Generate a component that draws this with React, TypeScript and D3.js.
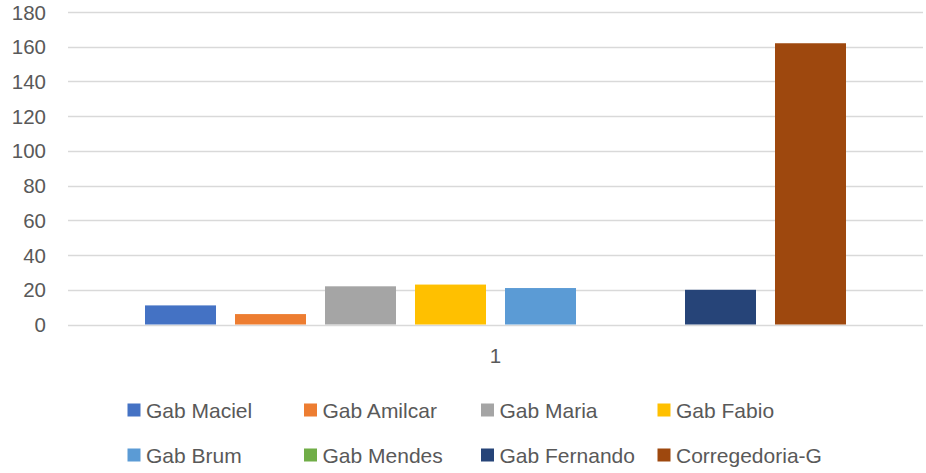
import React from "react";
import * as d3 from "d3";

const categories = ["1"];
const seriesNames = [
  "Gab Maciel",
  "Gab Amilcar",
  "Gab Maria",
  "Gab Fabio",
  "Gab Brum",
  "Gab Mendes",
  "Gab Fernando",
  "Corregedoria-G",
];
const seriesValues = [11, 6, 22, 23, 21, 0, 20, 162];
const seriesColors = [
  "#4472C4",
  "#ED7D31",
  "#A5A5A5",
  "#FFC000",
  "#5B9BD5",
  "#70AD47",
  "#264478",
  "#9E480E",
];
const yTicks = [0, 20, 40, 60, 80, 100, 120, 140, 160, 180];

const W = 926;
const H = 473;
const FONT = "'Liberation Sans', Arial, sans-serif";

export default function App() {
  const left = 68;
  const right = 923;
  const y = d3.scaleLinear().domain([0, 180]).range([324.5, 12]);
  const x0 = d3.scaleBand().domain(categories).range([left, right]).padding(0);
  const x1 = d3
    .scaleBand()
    .domain(seriesNames)
    .range([0, x0.bandwidth()])
    .paddingInner(19 / 90)
    .paddingOuter(0.8556);

  const legendCols = [127.5, 304, 481, 657.5];
  const legendRows = [410, 455];

  return (
    <svg
      width={W}
      height={H}
      style={{ position: "absolute", left: 0, top: 0, background: "#fff" }}
      fontFamily={FONT}
    >
      {yTicks.map((t) => (
        <g key={t}>
          <line
            x1={left}
            x2={right}
            y1={Math.round(y(t)) + 0.5}
            y2={Math.round(y(t)) + 0.5}
            stroke="#D9D9D9"
            strokeWidth={t === 0 ? 1.5 : 1.3}
          />
          <text
            x={46}
            y={y(t)}
            textAnchor="end"
            dominantBaseline="central"
            fontSize={20.5}
            fill="#595959"
          >
            {t}
          </text>
        </g>
      ))}
      {categories.map((c) => (
        <g key={c} transform={`translate(${x0(c)},0)`}>
          {seriesNames.map((s, i) => (
            <rect
              key={s}
              x={x1(s)}
              y={y(seriesValues[i])}
              width={x1.bandwidth()}
              height={y(0) - y(seriesValues[i])}
              fill={seriesColors[i]}
            />
          ))}
          <text
            x={x0.bandwidth() / 2}
            y={355}
            textAnchor="middle"
            dominantBaseline="central"
            fontSize={20.5}
            fill="#595959"
          >
            {c}
          </text>
        </g>
      ))}
      {seriesNames.map((s, i) => {
        const cx = legendCols[i % 4];
        const cy = legendRows[Math.floor(i / 4)];
        return (
          <g key={s}>
            <rect x={cx} y={cy - 6.5} width={13} height={13} fill={seriesColors[i]} />
            <text
              x={cx + 18.5}
              y={cy}
              dominantBaseline="central"
              fontSize={21}
              fill="#595959"
            >
              {s}
            </text>
          </g>
        );
      })}
    </svg>
  );
}
